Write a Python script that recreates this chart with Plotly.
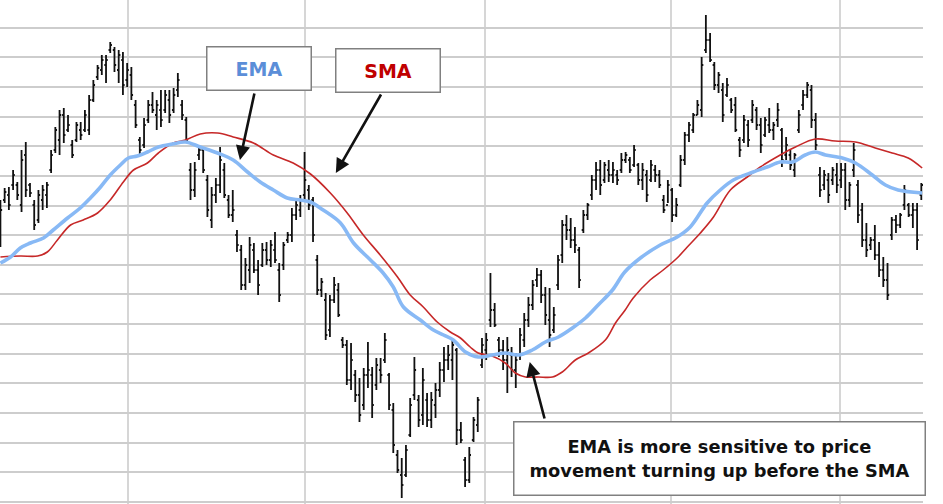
import plotly.graph_objects as go

# ---- price bars (one per trading day) ----
high = [50.0,51.2,51.3,53.0,51.8,55.0,55.8,51.7,50.0,51.0,
        51.5,51.8,55.0,57.3,59.0,59.2,58.5,56.0,57.8,57.8,
        59.0,60.5,62.0,63.5,64.5,64.5,65.8,65.3,65.0,64.8,
        63.7,63.3,60.0,56.3,58.2,60.0,60.8,60.0,61.0,61.0,
        61.0,61.2,62.7,60.0,58.3,53.7,53.8,55.5,55.3,52.5,
        51.3,52.2,55.3,53.7,50.5,51.0,47.0,45.5,44.2,46.3,
        45.7,44.0,45.7,45.8,46.0,46.8,43.7,45.8,46.8,49.2,
        50.0,50.5,54.8,51.5,50.3,44.5,42.2,40.7,40.5,42.3,
        41.7,36.3,36.0,35.7,33.0,32.2,33.2,35.8,33.3,34.2,
        34.2,36.7,32.7,29.7,25.0,24.2,25.5,30.2,34.3,30.5,
        33.2,30.7,30.8,31.7,33.8,35.3,35.5,36.0,35.2,27.8,
        24.3,25.3,28.3,30.3,36.2,36.7,42.7,39.7,36.3,36.0,
        36.3,35.3,34.7,37.2,38.7,40.3,42.0,43.2,43.0,41.3,
        41.2,39.3,44.5,48.0,48.5,48.2,47.3,45.3,49.0,49.7,
        52.5,53.8,54.0,53.8,54.0,53.8,53.0,54.7,54.8,54.3,
        55.5,53.7,53.7,53.0,54.0,53.5,53.0,50.5,52.0,51.2,
        50.2,54.5,56.8,57.8,58.7,60.0,64.3,68.5,66.7,63.8,
        62.8,61.7,62.2,60.2,60.3,56.3,58.5,58.0,60.0,59.3,
        58.2,58.3,59.2,57.8,59.7,57.2,56.3,55.0,54.7,59.0,
        61.0,61.8,61.5,58.7,53.3,53.0,52.7,53.3,53.7,53.7,
        53.7,51.8,55.7,52.0,49.7,47.7,46.3,47.5,45.8,44.3,
        43.7,48.3,48.5,48.7,51.5,49.7,49.7,49.7,51.7]

low = [45.3,49.7,49.0,51.0,50.0,48.8,50.3,50.3,47.0,47.7,
       49.0,49.2,52.7,54.7,54.5,55.7,56.8,54.2,55.8,56.0,
       56.8,56.5,59.8,62.0,62.5,61.7,64.7,62.8,61.7,60.5,
       61.3,60.0,57.2,54.5,55.2,57.7,58.7,57.0,57.3,58.7,
       57.7,58.7,60.3,58.0,55.7,50.0,50.3,54.0,52.7,48.3,
       47.2,49.7,50.7,50.2,48.2,47.8,44.8,41.0,41.0,41.7,
       42.7,40.5,43.3,43.5,43.3,43.7,39.8,43.0,45.7,45.8,
       48.0,48.3,50.0,49.0,45.8,40.5,40.3,36.0,36.3,39.7,
       38.3,35.2,31.5,31.0,29.8,27.8,29.0,31.2,28.2,31.0,
       31.7,33.7,29.0,24.7,22.7,20.2,22.3,26.3,30.0,27.3,
       27.5,27.3,27.2,28.2,30.3,31.8,33.0,32.0,25.5,25.7,
       21.3,21.7,25.8,26.8,33.2,34.0,37.3,37.3,34.3,33.0,
       30.7,32.3,31.2,34.0,35.3,37.3,39.0,41.3,39.7,37.5,
       35.3,36.7,41.0,43.7,46.0,45.2,44.7,41.2,46.7,48.0,
       50.0,51.0,50.5,51.7,51.8,51.7,51.5,52.7,53.7,52.7,
       53.3,51.5,51.0,49.8,51.8,51.8,51.2,48.7,49.7,47.8,
       48.3,51.3,53.5,55.8,56.7,58.5,58.3,64.7,63.8,61.0,
       60.7,57.8,60.3,58.7,56.8,54.3,55.7,55.3,57.7,57.0,
       54.7,56.3,56.7,56.0,57.3,53.3,54.0,53.0,52.3,56.7,
       59.0,60.2,57.2,55.0,50.3,51.0,49.7,51.5,50.7,51.2,
       49.0,49.3,52.3,47.7,45.3,44.3,45.0,44.0,42.3,41.3,
       40.0,46.0,46.7,47.2,49.0,48.3,47.2,45.0,50.0]

open_ = [46.0,50.0,50.5,51.5,51.5,49.5,54.5,51.5,49.5,48.0,
         50.0,50.5,53.0,55.0,56.0,58.5,57.0,55.5,56.0,57.0,
         57.0,57.0,60.0,62.3,63.0,63.5,65.0,65.0,63.0,64.0,
         62.0,62.5,59.5,56.0,55.5,58.0,59.5,58.5,59.0,59.0,
         60.0,59.0,61.0,59.5,58.0,53.0,51.0,54.5,55.0,52.0,
         48.0,50.5,51.5,53.0,50.0,48.5,46.5,45.0,41.5,43.0,
         45.0,43.0,43.5,45.0,44.0,45.0,43.0,43.5,46.0,46.5,
         48.5,49.0,50.5,51.0,50.0,44.0,41.0,40.0,37.0,40.0,
         41.0,36.0,35.5,32.0,32.5,30.5,29.5,32.5,32.5,31.5,
         33.0,34.0,32.5,29.0,24.5,22.5,22.5,26.5,30.5,30.0,
         28.5,30.0,28.0,29.5,31.0,33.0,34.0,34.0,35.0,27.0,
         24.0,22.0,26.0,27.5,33.5,35.0,38.0,39.0,36.0,35.0,
         34.0,34.5,33.0,34.5,36.0,38.0,39.5,42.0,42.5,40.5,
         38.0,37.0,41.5,44.5,47.5,47.0,46.0,45.0,47.0,48.5,
         50.5,52.0,53.0,52.0,53.0,52.5,52.5,53.0,54.0,54.0,
         53.5,53.5,52.0,52.5,52.0,53.0,52.5,50.0,49.5,51.0,
         48.5,51.5,54.0,56.5,57.0,58.5,59.0,65.0,66.0,63.5,
         61.5,61.0,60.5,60.0,59.5,56.0,56.0,57.5,58.0,59.0,
         57.5,56.5,57.5,57.0,58.0,57.0,54.5,54.5,53.0,57.0,
         59.5,60.5,61.0,58.0,52.5,51.5,52.0,52.0,52.5,52.0,
         53.0,50.0,53.0,51.5,49.0,46.0,45.5,46.0,44.5,43.0,
         42.0,46.5,48.0,47.5,49.5,49.5,48.5,49.0,50.5]

close = [49.0,50.8,49.5,52.5,50.5,54.0,51.0,50.7,47.5,50.5,
         51.0,51.5,54.5,57.0,58.5,56.5,57.5,54.5,57.5,56.5,
         58.5,60.0,61.5,63.2,64.0,64.0,65.5,63.5,64.5,61.5,
         63.0,60.5,57.5,55.0,57.5,59.5,59.0,59.5,58.0,60.5,
         58.5,60.5,62.0,58.5,56.0,51.0,53.0,55.0,53.0,49.0,
         50.5,51.5,54.0,50.5,48.5,49.0,45.5,41.5,43.5,45.5,
         43.0,41.5,45.0,44.0,45.5,44.0,40.5,45.5,46.5,48.5,
         49.5,50.0,52.0,49.5,46.5,41.0,41.8,36.5,40.0,41.5,
         38.5,35.5,32.0,34.0,30.5,28.5,32.5,33.0,29.5,33.5,
         32.5,36.0,29.5,25.5,23.0,21.5,25.0,29.5,33.0,28.0,
         32.0,28.0,30.0,31.0,33.0,34.0,34.5,35.5,27.0,26.0,
         22.0,24.5,28.0,30.0,35.5,36.0,39.0,37.5,35.0,34.0,
         35.0,33.0,34.0,36.5,38.0,39.5,41.5,42.5,40.5,38.5,
         36.5,38.5,44.0,47.5,47.0,46.0,45.5,42.0,48.5,49.5,
         52.0,53.0,51.5,53.5,52.5,53.0,52.0,54.0,54.5,53.0,
         55.0,52.0,53.0,50.5,53.5,52.5,51.5,49.0,51.5,48.5,
         49.5,54.0,56.5,57.5,58.5,59.5,63.5,66.0,64.0,61.5,
         62.5,58.5,61.5,59.0,57.0,55.0,58.0,56.0,59.5,57.5,
         55.5,58.0,57.0,57.5,59.0,54.0,55.5,53.5,54.5,58.5,
         60.5,61.5,58.0,55.5,51.0,52.5,50.5,53.0,51.5,53.0,
         50.0,51.5,55.0,48.5,46.0,45.0,46.0,44.5,43.0,42.0,
         40.5,48.0,47.5,48.5,51.0,48.5,49.0,46.0,51.5]

day = list(range(len(high)))

# ---- moving averages ----
ema_x = [0,2.4,4.7,7.1,10.2,12.5,15.9,18.9,21.3,23.7,26.0,28.4,30.3,32.4,34.8,
         37.4,40.7,43.8,47.3,51.4,55.1,58.5,61.5,64.6,67.9,71.0,73.4,76.4,80.5,83.6,
         87.6,90.6,93.0,95.4,99.4,102.5,104.9,107.2,110.1,113.1,116.4,119.5,122.6,125.9,129.0,
         132.1,135.4,138.5,141.5,144.9,147.8,151.5,156.2,160.2,163.3,167.3,170.4,173.5,178.2,181.5,
         184.6,187.5,190.5,192.9,195.3,199.3,202.4,206.4,209.5,212.5,218.2]
ema_y = [43.7,44.3,45.2,45.7,46.2,47.0,48.2,49.2,50.2,51.3,52.5,53.5,54.2,54.4,54.8,
         55.3,55.6,55.8,55.3,54.7,54.0,52.8,51.8,51.0,50.2,50.0,49.8,49.0,47.7,45.7,
         44.0,42.7,41.3,39.3,38.0,37.0,36.5,36.0,34.8,34.3,34.5,34.7,34.5,35.0,35.8,
         36.3,37.2,38.2,39.5,41.0,42.8,44.2,45.5,46.3,47.3,49.7,51.0,52.0,52.8,53.3,
         53.8,53.8,54.5,54.8,54.5,54.2,53.7,52.5,51.5,51.0,50.7]

sma_x = [0,4.7,8.8,11.1,13.5,16.6,19.6,23.0,26.0,29.1,31.5,34.8,37.4,40.9,43.8,
         47.3,51.4,55.1,59.9,64.6,69.3,73.4,78.1,82.1,85.9,89.9,94.0,97.0,100.1,103.4,
         106.5,108.9,111.2,113.1,116.4,119.5,121.9,124.3,127.3,130.7,133.0,136.1,139.2,143.2,145.6,
         147.9,149.8,153.8,156.9,160.2,162.6,165.7,168.8,172.8,176.8,179.9,184.6,188.2,192.9,197.6,
         202.4,207.1,211.1,214.9,218.2]
sma_y = [44.3,44.4,44.4,44.8,46.0,47.5,48.0,48.7,50.0,51.8,53.0,53.7,54.7,55.7,56.0,
         56.6,56.7,56.3,55.7,54.5,53.7,52.6,50.7,48.7,46.5,44.5,42.3,40.5,39.3,37.8,
         36.8,36.2,35.3,34.7,34.4,33.7,32.7,32.3,32.3,32.3,32.8,34.0,34.7,36.0,37.7,
         39.0,40.2,42.0,43.0,44.2,45.3,46.7,48.3,51.0,52.3,53.3,54.5,55.3,56.1,55.9,
         55.8,55.2,54.7,54.2,53.2]

month_breaks = [30.2, 72.1, 114.7, 158.7, 198.7]

label_font = "DejaVu Sans"

fig = go.Figure()
fig.add_trace(go.Ohlc(
    x=day, open=open_, high=high, low=low, close=close,
    increasing=dict(line=dict(color="#111111", width=1.8)),
    decreasing=dict(line=dict(color="#111111", width=1.8)),
    tickwidth=0.4, showlegend=False, hoverinfo="skip"))
fig.add_trace(go.Scatter(x=sma_x, y=sma_y, mode="lines", line=dict(color="#c62828", width=1.6, shape="spline"),
                         showlegend=False, hoverinfo="skip"))
fig.add_trace(go.Scatter(x=ema_x, y=ema_y, mode="lines", line=dict(color="#88b9f5", width=3.6, shape="spline"),
                         showlegend=False, hoverinfo="skip"))

annotations = [
    dict(x=61.3, y=63.15, xref="x", yref="y", text="<b>EMA</b>", showarrow=False,
         width=101, height=40, bgcolor="white", bordercolor="#808080", borderwidth=1.5, borderpad=1,
         font=dict(family=label_font, size=19, color="#5b8ed8")),
    dict(x=91.8, y=63.0, xref="x", yref="y", text="<b>SMA</b>", showarrow=False,
         width=101, height=40, bgcolor="white", bordercolor="#808080", borderwidth=1.5, borderpad=1,
         font=dict(family=label_font, size=19, color="#c00000")),
    dict(x=170.3, y=24.15, xref="x", yref="y",
         text="<b>EMA is more sensitive to price<br>movement turning up before the SMA</b>",
         showarrow=False, width=408, height=70, bgcolor="white", bordercolor="#808080",
         borderwidth=1.5, borderpad=1, align="center",
         font=dict(family=label_font, size=17.8, color="#111111")),
    # arrows
    dict(x=56.7, y=54.0, ax=60.2, ay=60.8, xref="x", yref="y", axref="x", ayref="y", text="",
         showarrow=True, arrowhead=2, arrowsize=1.1, arrowwidth=2.6, arrowcolor="#111111", standoff=0),
    dict(x=79.4, y=52.7, ax=90.3, ay=60.7, xref="x", yref="y", axref="x", ayref="y", text="",
         showarrow=True, arrowhead=2, arrowsize=1.1, arrowwidth=2.6, arrowcolor="#111111", standoff=0),
    dict(x=125.3, y=33.8, ax=128.9, ay=28.0, xref="x", yref="y", axref="x", ayref="y", text="",
         showarrow=True, arrowhead=2, arrowsize=1.1, arrowwidth=2.6, arrowcolor="#111111", standoff=0),
]

fig.update_layout(
    width=943, height=504,
    margin=dict(l=0, r=20, t=0, b=0),
    paper_bgcolor="white", plot_bgcolor="white",
    showlegend=False,
    annotations=annotations,
    xaxis=dict(range=[-0.1, 218.4], tickvals=month_breaks, showticklabels=False, ticks="",
               showgrid=True, gridcolor="#d6d6d6", gridwidth=2.2, zeroline=False, showline=False,
               rangeslider=dict(visible=False), fixedrange=True),
    yaxis=dict(range=[19.6, 70.0], tick0=19.8, dtick=2.965, showticklabels=False, ticks="",
               showgrid=True, gridcolor="#cdcdcd", gridwidth=2, zeroline=False, showline=False,
               fixedrange=True),
)

fig.write_html("out.html",
               config={"displayModeBar": False, "staticPlot": True},
               post_script="document.body.style.margin='0px';document.body.style.overflow='hidden';")
